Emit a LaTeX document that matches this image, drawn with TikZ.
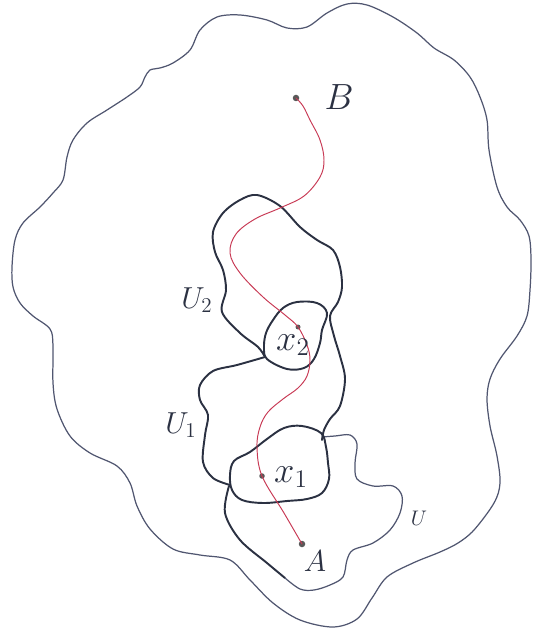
\documentclass[tikz,border=0pt]{standalone}
\usepackage{tikz}
\usetikzlibrary{positioning}
\usepackage{xcolor}
\definecolor{ink}{HTML}{2B3142}
\definecolor{pencil}{HTML}{505670}
\definecolor{redink}{HTML}{C83A55}

\begin{document}
\begin{tikzpicture}[x=0.2mm, y=-0.2mm,
  outer/.style={draw=pencil, line width=0.7pt, line join=round},
  nbhd/.style={draw=ink, line width=1.1pt, line join=round, line cap=round},
  curve/.style={draw=redink, line width=0.55pt, line cap=round},
  dot/.style={circle, fill=black!65, inner sep=0pt, minimum size=1.3mm},
  lbl/.style={text=ink, font=\huge, inner sep=0pt}]
  \useasboundingbox (0,0) rectangle (534,632);

  % the big region
  \draw[outer] plot[smooth cycle, tension=0.55] coordinates {
    (347,4) (367,5) (393,17) (417,33) (434,48) (454,60) (470,77) (480,97)
    (487,120) (489,150) (497,187) (507,207) (520,220) (529,236) (531,260)
    (530,290) (527,316) (517,336) (500,359) (490,379) (487,399) (490,426)
    (497,456) (500,483) (494,503) (474,530) (458,543) (440,552) (413,563)
    (387,577) (372,598) (357,619) (333,627) (300,620) (273,603) (250,580)
    (230,560) (200,555) (173,549) (150,529) (137,506) (130,483) (117,466)
    (90,453) (70,436) (57,409) (53,383) (53,346) (50,329) (33,316) (20,303)
    (13,287) (12,267) (15,240) (23,223) (40,207) (53,193) (63,180) (67,157)
    (73,140) (87,123) (107,110) (127,97) (140,87) (145,77) (150,70) (160,68)
    (173,63) (190,50) (200,30) (217,17) (240,15) (267,20) (287,28) (307,27)
    (327,13)};

  % U
  \draw[nbhd] plot[smooth, tension=0.55] coordinates {
    (229,486) (225,513) (240,540) (267,563) (285,578)};
  \draw[outer] plot[smooth, tension=0.55] coordinates {
    (285,578) (300,589) (314,590) (330,585) (343,577) (347,560) (353,550)
    (373,543) (390,530) (400,513) (402,496) (393,486) (373,486) (357,479)
    (355,463) (357,444) (350,435) (335,436) (322,437)};

  % U_1 and U_2
  \draw[nbhd] plot[smooth, tension=0.55] coordinates {
    (230,485) (213,478) (203,462) (205,435) (208,415) (200,400) (200,385)
    (213,371) (237,365) (265,357)};
  \draw[nbhd] plot[smooth, tension=0.55] coordinates {
    (265,357) (258,347) (240,333) (222,312) (226,290) (223,270) (215,252)
    (213,232) (223,213) (240,200) (257,195) (280,206) (300,227) (317,240)
    (333,250) (340,267) (342,287) (338,302) (330,316) (334,336) (340,356)
    (345,379) (340,406) (330,419) (324,430) (322,440)};

  % small balls
  \draw[nbhd] plot[smooth cycle, tension=0.6] coordinates {
    (283,308) (297,302) (317,303) (327,313) (322,330) (320,343) (314,359)
    (304,368) (287,369) (267,359) (264,347) (266,333) (273,320)};
  \draw[nbhd] plot[smooth cycle, tension=0.6] coordinates {
    (250,452) (267,439) (284,428) (302,426) (321,433) (326,447) (328,463)
    (329,479) (322,493) (307,499) (287,501) (263,503) (242,500) (232,490)
    (230,475) (234,461)};

  \node[dot] (B) at (296,98) {};
  \node[dot, minimum size=1mm] (x2) at (298,327) {};
  \node[dot, minimum size=1.1mm] (x1) at (262,476) {};
  \node[dot] (A) at (302,544) {};

  \draw[curve] plot[smooth, tension=0.6] coordinates {
    (B.center) (303,106) (310,120) (320,140) (324,160) (320,177) (304,196)
    (280,208) (255,219) (236,234) (230,253) (240,273) (263,297) (285,315)
    (x2.center) (307,345) (310,360) (307,376) (298,388) (283,399) (268,412)
    (260,427) (257,447) (x1.center) (284,513) (A.center)};

  \node[lbl] (lB) at (339,97) {$B$};
  \node[lbl, font=\LARGE] (lA) at (315,561) {$A$};
  \node[lbl] (lx2) at (293,345) {$x_2$};
  \node[lbl] (lx1) at (291,477) {$x_1$};
  \node[lbl, font=\LARGE] (lU2) at (197,300) {$U_2$};
  \node[lbl, font=\LARGE] (lU1) at (181,425) {$U_1$};
  \node[lbl, font=\large] (lU) at (419,518) {$U$};
\end{tikzpicture}
\end{document}
